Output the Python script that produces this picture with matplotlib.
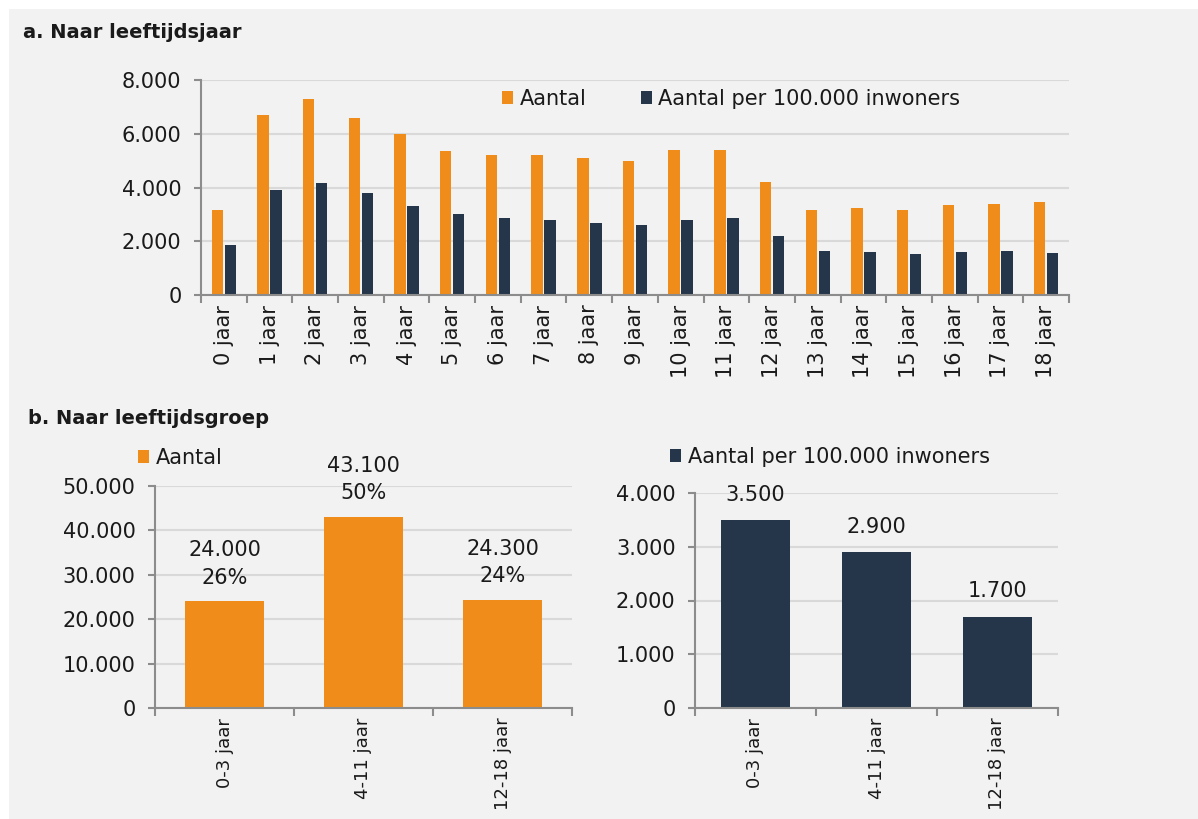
import matplotlib.pyplot as plt
import matplotlib.patches as mpatches
import numpy as np

# a. Naar leeftijdsjaar
ages = ["0 jaar", "1 jaar", "2 jaar", "3 jaar", "4 jaar", "5 jaar", "6 jaar", "7 jaar",
        "8 jaar", "9 jaar", "10 jaar", "11 jaar", "12 jaar", "13 jaar", "14 jaar",
        "15 jaar", "16 jaar", "17 jaar", "18 jaar"]
aantal = [3150, 6700, 7300, 6600, 6000, 5350, 5200, 5200, 5080, 5000,
          5400, 5400, 4200, 3170, 3230, 3150, 3350, 3400, 3450]
per100k = [1850, 3900, 4150, 3800, 3330, 3030, 2880, 2800, 2670, 2620,
           2800, 2880, 2180, 1620, 1590, 1520, 1590, 1620, 1550]

# b. Naar leeftijdsgroep
groups = ["0-3 jaar", "4-11 jaar", "12-18 jaar"]
groep_aantal = [24000, 43100, 24300]
groep_pct = ["26%", "50%", "24%"]
groep_per100k = [3500, 2900, 1700]

ORANGE = "#F08D1A"
NAVY = "#25364A"
GRID = "#D9D9D9"
AXIS = "#8C8C8C"
TXT = "#1A1A1A"
FS = 15

plt.rcParams["font.family"] = ["DejaVu Sans"]
plt.rcParams["text.color"] = TXT


def dots(v):
    return f"{v:,.0f}".replace(",", ".")


def style_axis(ax, ymax, ystep, ncat, lblpad, xfs=FS):
    ax.set_facecolor("none")
    ax.set_xlim(-0.5, ncat - 0.5)
    ax.set_ylim(0, ymax)
    ax.set_yticks(np.arange(0, ymax + 1, ystep))
    ax.set_yticklabels([dots(v) for v in np.arange(0, ymax + 1, ystep)])
    ax.yaxis.grid(True, color=GRID, linewidth=1.5)
    ax.set_axisbelow(True)
    for s in ["top", "right"]:
        ax.spines[s].set_visible(False)
    for s in ["left", "bottom"]:
        ax.spines[s].set_color(AXIS)
        ax.spines[s].set_linewidth(1.5)
    ax.set_xticks(np.arange(-0.5, ncat), minor=True)
    ax.tick_params(axis="x", which="minor", length=6, width=1.5, color=AXIS, direction="out")
    ax.tick_params(axis="x", which="major", length=0, pad=lblpad, labelsize=xfs,
                   labelrotation=90, labelcolor=TXT)
    ax.tick_params(axis="y", length=5, width=1.5, color=AXIS, pad=9, labelsize=FS,
                   labelcolor=TXT)


fig = plt.figure(figsize=(11.98, 8.19), dpi=100, facecolor="white")
fig.patches.append(mpatches.Rectangle((9 / 1198, 0), 1, 1 - 9 / 819, transform=fig.transFigure,
                                      facecolor="#F2F2F2", edgecolor="none", zorder=-10))

# top chart
ax1 = fig.add_axes([201 / 1198, 1 - 295 / 819, 868 / 1198, 215 / 819])
x = np.arange(len(ages))
w = 0.25
ax1.bar(x - 0.142, aantal, w, color=ORANGE, label="Aantal")
ax1.bar(x + 0.142, per100k, w, color=NAVY, label="Aantal per 100.000 inwoners")
style_axis(ax1, 8000, 2000, len(ages), 7)
ax1.set_xticks(x)
ax1.set_xticklabels(ages, va="top", ha="center")
ax1.legend(loc="center left", bbox_to_anchor=(502 / 1198, 1 - 99 / 819),
           bbox_transform=fig.transFigure, ncol=2, frameon=False, fontsize=FS,
           handlelength=0.55, handleheight=0.55, handletextpad=0.3, columnspacing=2.6,
           borderpad=0, borderaxespad=0)

fig.text(23 / 1198, 1 - 32 / 819, "a. Naar leeftijdsjaar", fontsize=14, fontweight="bold",
         va="center", ha="left")
fig.text(28 / 1198, 1 - 419 / 819, "b. Naar leeftijdsgroep", fontsize=14, fontweight="bold",
         va="center", ha="left")

# bottom left
gx = np.arange(len(groups))
ax2 = fig.add_axes([155 / 1198, 1 - 708 / 819, 417 / 1198, 222 / 819])
ax2.bar(gx, groep_aantal, 0.57, color=ORANGE, label="Aantal")
style_axis(ax2, 50000, 10000, len(groups), 7, xfs=13)
ax2.set_xticks(gx)
ax2.set_xticklabels(groups, va="top", ha="center")
for xi, v, p in zip(gx, groep_aantal, groep_pct):
    ax2.annotate(f"{dots(v)}\n{p}", (xi, v), xytext=(0, 10), textcoords="offset points",
                 ha="center", va="bottom", fontsize=FS, linespacing=1.45)
ax2.legend(loc="center left", bbox_to_anchor=(138 / 1198, 1 - 458 / 819),
           bbox_transform=fig.transFigure, frameon=False, fontsize=FS,
           handlelength=0.55, handleheight=0.55, handletextpad=0.3,
           borderpad=0, borderaxespad=0)

# bottom right
ax3 = fig.add_axes([695 / 1198, 1 - 708 / 819, 363 / 1198, 215 / 819])
ax3.bar(gx, groep_per100k, 0.57, color=NAVY, label="Aantal per 100.000 inwoners")
style_axis(ax3, 4000, 1000, len(groups), 7, xfs=13)
ax3.set_xticks(gx)
ax3.set_xticklabels(groups, va="top", ha="center")
for xi, v in zip(gx, groep_per100k):
    ax3.annotate(dots(v), (xi, v), xytext=(0, 11), textcoords="offset points",
                 ha="center", va="bottom", fontsize=FS)
ax3.legend(loc="center left", bbox_to_anchor=(670 / 1198, 1 - 457 / 819),
           bbox_transform=fig.transFigure, frameon=False, fontsize=FS,
           handlelength=0.55, handleheight=0.55, handletextpad=0.3,
           borderpad=0, borderaxespad=0)

fig.savefig("out.png", dpi=100, facecolor=fig.get_facecolor())
